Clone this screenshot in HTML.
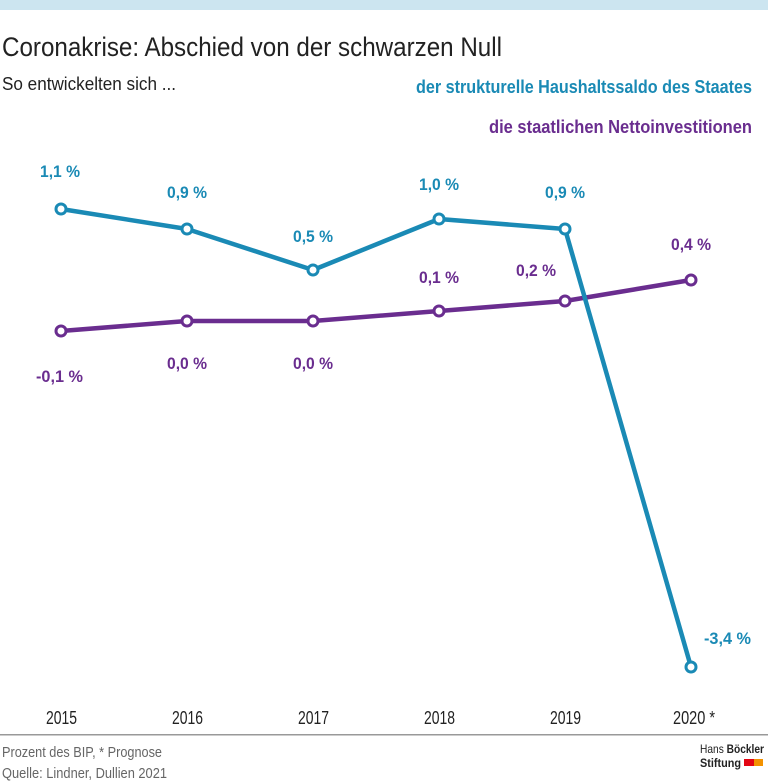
<!DOCTYPE html>
<html><head><meta charset="utf-8"><style>
html,body{margin:0;padding:0;background:#fff;}
body{width:768px;height:784px;overflow:hidden;position:relative;}
svg{position:absolute;left:0;top:0;}
text{font-family:"Liberation Sans Narrow","Liberation Sans",sans-serif;}
</style></head><body>
<svg width="768" height="784" viewBox="0 0 768 784">
<rect x="0" y="0" width="768" height="10" fill="#cce5f0"/>
<text x="2" y="56" font-size="27" fill="#222" textLength="500" lengthAdjust="spacingAndGlyphs">Coronakrise: Abschied von der schwarzen Null</text>
<text x="2" y="90" font-size="18" fill="#222" textLength="174" lengthAdjust="spacingAndGlyphs">So entwickelten sich ...</text>
<text x="752" y="93" font-size="18" font-weight="bold" fill="#1a8ab5" text-anchor="end" textLength="336" lengthAdjust="spacingAndGlyphs">der strukturelle Haushaltssaldo des Staates</text>
<text x="752" y="133" font-size="18" font-weight="bold" fill="#6a2d8f" text-anchor="end" textLength="263" lengthAdjust="spacingAndGlyphs">die staatlichen Nettoinvestitionen</text>

<polyline points="61,331 187,321 313,321 439,311 565,301 691,280" fill="none" stroke="#6a2d8f" stroke-width="4.5" stroke-linejoin="round"/>
<polyline points="61,209 187,229 313,270 439,219 565,229 691,667" fill="none" stroke="#1a8ab5" stroke-width="4.5" stroke-linejoin="round"/>
<g fill="#fff" stroke="#6a2d8f" stroke-width="3">
<circle cx="61" cy="331" r="5"/><circle cx="187" cy="321" r="5"/><circle cx="313" cy="321" r="5"/><circle cx="439" cy="311" r="5"/><circle cx="565" cy="301" r="5"/><circle cx="691" cy="280" r="5"/>
</g>
<g fill="#fff" stroke="#1a8ab5" stroke-width="3">
<circle cx="61" cy="209" r="5"/><circle cx="187" cy="229" r="5"/><circle cx="313" cy="270" r="5"/><circle cx="439" cy="219" r="5"/><circle cx="565" cy="229" r="5"/><circle cx="691" cy="667" r="5"/>
</g>
<g font-size="17" font-weight="bold" fill="#1a8ab5">
<text x="40" y="177" textLength="40" lengthAdjust="spacingAndGlyphs">1,1 %</text>
<text x="167" y="198" textLength="40" lengthAdjust="spacingAndGlyphs">0,9 %</text>
<text x="293" y="242" textLength="40" lengthAdjust="spacingAndGlyphs">0,5 %</text>
<text x="419" y="190" textLength="40" lengthAdjust="spacingAndGlyphs">1,0 %</text>
<text x="545" y="198" textLength="40" lengthAdjust="spacingAndGlyphs">0,9 %</text>
<text x="704" y="644" textLength="47" lengthAdjust="spacingAndGlyphs">-3,4 %</text>
</g>
<g font-size="17" font-weight="bold" fill="#6a2d8f">
<text x="36" y="382" textLength="47" lengthAdjust="spacingAndGlyphs">-0,1 %</text>
<text x="167" y="369" textLength="40" lengthAdjust="spacingAndGlyphs">0,0 %</text>
<text x="293" y="369" textLength="40" lengthAdjust="spacingAndGlyphs">0,0 %</text>
<text x="419" y="283" textLength="40" lengthAdjust="spacingAndGlyphs">0,1 %</text>
<text x="516" y="276" textLength="40" lengthAdjust="spacingAndGlyphs">0,2 %</text>
<text x="671" y="250" textLength="40" lengthAdjust="spacingAndGlyphs">0,4 %</text>
</g>
<g font-size="18" fill="#222">
<text x="46" y="724" textLength="31" lengthAdjust="spacingAndGlyphs">2015</text>
<text x="172" y="724" textLength="31" lengthAdjust="spacingAndGlyphs">2016</text>
<text x="298" y="724" textLength="31" lengthAdjust="spacingAndGlyphs">2017</text>
<text x="424" y="724" textLength="31" lengthAdjust="spacingAndGlyphs">2018</text>
<text x="550" y="724" textLength="31" lengthAdjust="spacingAndGlyphs">2019</text>
<text x="673" y="724" textLength="42" lengthAdjust="spacingAndGlyphs">2020 *</text>
</g>
<rect x="0" y="734" width="768" height="1.5" fill="#999"/>
<text x="2" y="757" font-size="15" fill="#666" textLength="160" lengthAdjust="spacingAndGlyphs">Prozent des BIP, * Prognose</text>
<text x="2" y="778" font-size="15" fill="#666" textLength="165" lengthAdjust="spacingAndGlyphs">Quelle: Lindner, Dullien 2021</text>
<text x="700" y="753" font-size="12" fill="#222" textLength="64" lengthAdjust="spacingAndGlyphs">Hans <tspan font-weight="bold">Böckler</tspan></text>
<text x="700" y="767" font-size="12" font-weight="bold" fill="#222" textLength="41" lengthAdjust="spacingAndGlyphs">Stiftung</text>
<rect x="744" y="759" width="10" height="7" fill="#e30613"/>
<rect x="754" y="759" width="9" height="7" fill="#f39200"/>
</svg>
</body></html>
